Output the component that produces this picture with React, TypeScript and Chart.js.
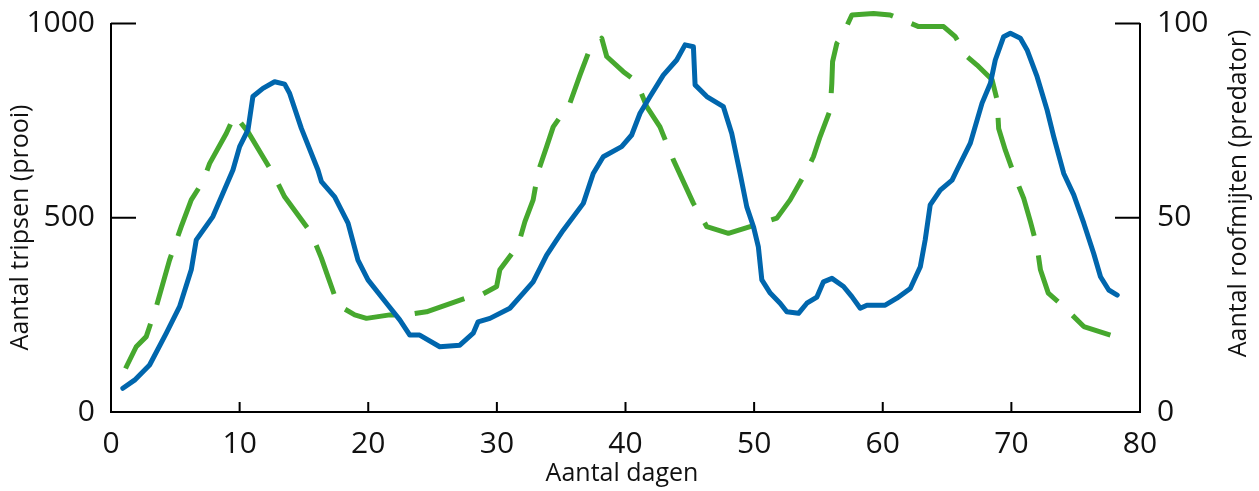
import React, { useEffect, useRef } from "react";
import { Chart, registerables } from "chart.js";

Chart.register(...registerables);

// Prey (tripsen): day, count
const preyDays = [0.92, 1.83, 3.0, 4.3, 5.33, 6.24, 6.63, 7.92, 9.48, 10.0, 10.65, 11.03, 11.81, 12.72, 13.5, 13.89, 14.8, 16.09, 16.36, 17.39, 18.43, 19.2, 19.98, 21.42, 22.45, 23.23, 24.0, 25.56, 27.12, 28.16, 28.54, 29.46, 31.01, 32.05, 32.82, 33.87, 34.65, 35.16, 36.72, 37.49, 38.27, 39.7, 40.48, 41.13, 41.91, 42.94, 43.98, 44.63, 45.28, 45.41, 46.32, 47.61, 48.26, 48.91, 49.43, 49.95, 50.33, 50.6, 51.25, 52.02, 52.54, 53.45, 54.1, 54.88, 55.39, 56.05, 56.95, 57.6, 58.25, 58.77, 60.19, 61.1, 62.14, 62.92, 63.3, 63.69, 64.47, 65.39, 65.77, 66.81, 67.72, 68.37, 68.75, 69.4, 69.92, 70.7, 71.22, 72.0, 72.78, 73.29, 74.07, 74.85, 75.63, 76.4, 76.93, 77.57, 78.23];
const preyCounts = [61, 82, 121, 203, 271, 366, 443, 503, 623, 683, 726, 812, 833, 850, 844, 820, 730, 623, 593, 554, 486, 391, 340, 280, 237, 198, 198, 168, 172, 203, 232, 241, 267, 306, 335, 404, 443, 468, 537, 614, 657, 683, 713, 769, 812, 867, 906, 945, 940, 842, 812, 786, 717, 614, 528, 477, 425, 340, 306, 280, 258, 254, 280, 296, 335, 344, 323, 297, 267, 275, 275, 293, 318, 374, 443, 533, 571, 597, 623, 692, 795, 846, 906, 966, 975, 962, 932, 863, 777, 709, 614, 559, 486, 408, 348, 314, 301];

// Predator (roofmijten): day, count
const predDays = [1.13, 1.96, 2.74, 3.52, 4.55, 5.46, 6.24, 7.14, 7.67, 8.96, 9.61, 10.65, 11.81, 12.59, 13.5, 15.58, 16.36, 16.87, 17.65, 18.95, 19.86, 21.67, 22.97, 24.53, 27.9, 28.54, 29.98, 30.23, 31.66, 32.18, 32.82, 33.21, 33.87, 34.38, 35.68, 36.46, 37.1, 38.15, 38.54, 39.83, 40.87, 41.65, 42.68, 43.72, 44.5, 45.28, 46.32, 48.0, 49.69, 51.77, 52.8, 53.97, 54.61, 55.13, 55.91, 56.04, 56.1, 56.43, 56.95, 57.6, 59.28, 60.58, 62.79, 64.73, 65.64, 66.55, 67.33, 68.5, 68.89, 69.01, 69.53, 70.18, 70.96, 71.48, 72.0, 72.26, 72.87, 74.07, 75.63, 77.7];
const predCounts = [11.2, 16.8, 19.4, 27.1, 39.1, 47.7, 54.6, 59.3, 64.0, 71.7, 76.4, 72.1, 65.7, 61.4, 55.4, 46.0, 39.6, 34.8, 27.5, 25.0, 24.1, 25.0, 25.0, 25.8, 29.7, 29.7, 32.3, 36.6, 43.0, 49.0, 54.6, 61.9, 68.3, 73.4, 79.5, 86.7, 92.3, 96.2, 91.5, 87.6, 85.0, 78.6, 73.4, 64.9, 59.3, 53.7, 47.7, 46.0, 47.7, 49.9, 54.6, 61.4, 65.7, 70.9, 77.7, 84.6, 90.2, 94.9, 97.5, 102.2, 102.6, 102.2, 99.2, 99.2, 96.6, 91.5, 89.3, 85.5, 80.3, 73.0, 67.4, 61.4, 55.0, 49.0, 42.5, 36.6, 30.6, 27.1, 22.0, 19.8];

const xTicks = [0, 10, 20, 30, 40, 50, 60, 70, 80];
const leftTicks = [0, 500, 1000];
const rightTicks = [0, 50, 100];

const xTitle = "Aantal dagen";
const leftTitle = "Aantal tripsen (prooi)";
const rightTitle = "Aantal roofmijten (predator)";

const FONT = "'Open Sans', sans-serif";
const TEXT = "#111";
const BLUE = "#0066AD";
const GREEN = "#46A82E";

const decorPlugin = {
  id: "decor",
  afterDraw(chart: any) {
    const ctx = chart.ctx;
    const x = chart.scales.x;
    const y = chart.scales.y;
    const y2 = chart.scales.y2;
    const area = chart.chartArea;
    ctx.save();
    ctx.strokeStyle = "#000";
    ctx.lineWidth = 2;
    ctx.beginPath();
    leftTicks.forEach((v) => {
      if (v === 0) return;
      const py = y.getPixelForValue(v);
      ctx.moveTo(area.left, py);
      ctx.lineTo(area.left + 25, py);
    });
    rightTicks.forEach((v) => {
      if (v === 0) return;
      const py = y2.getPixelForValue(v);
      ctx.moveTo(area.right, py);
      ctx.lineTo(area.right - 25, py);
    });
    xTicks.forEach((v) => {
      if (v === 0 || v === 80) return;
      const px = x.getPixelForValue(v);
      ctx.moveTo(px, area.bottom);
      ctx.lineTo(px, area.bottom - 10);
    });
    ctx.stroke();

    ctx.fillStyle = TEXT;
    ctx.font = `25px ${FONT}`;
    ctx.textAlign = "center";
    ctx.textBaseline = "alphabetic";
    ctx.fillText(xTitle, 622, 481);

    ctx.save();
    ctx.translate(28, 227.5);
    ctx.rotate(-Math.PI / 2);
    ctx.fillText(leftTitle, 0, 0);
    ctx.restore();

    ctx.save();
    ctx.translate(1246, 193.5);
    ctx.rotate(-Math.PI / 2);
    ctx.fillText(rightTitle, 0, 0);
    ctx.restore();

    ctx.restore();
  },
};

export default function App() {
  const ref = useRef<HTMLCanvasElement | null>(null);
  useEffect(() => {
    document.body.style.margin = "0";
    const canvas = ref.current;
    if (!canvas) return;
    const chart = new Chart(canvas, {
      type: "line",
      data: {
        datasets: [
          {
            label: "prooi",
            data: preyDays.map((d, i) => ({ x: d, y: preyCounts[i] })),
            yAxisID: "y",
            borderColor: BLUE,
            borderWidth: 5,
            pointRadius: 0,
            tension: 0,
            borderCapStyle: "round",
            borderJoinStyle: "round",
            fill: false,
            clip: false,
          },
          {
            label: "predator",
            data: predDays.map((d, i) => ({ x: d, y: predCounts[i] })),
            yAxisID: "y2",
            borderColor: GREEN,
            borderWidth: 5,
            borderDash: [52, 20],
            pointRadius: 0,
            tension: 0,
            borderCapStyle: "butt",
            borderJoinStyle: "round",
            fill: false,
            clip: false,
          },
        ],
      },
      options: {
        animation: false,
        responsive: false,
        devicePixelRatio: 1,
        events: [],
        layout: { padding: { top: 23.5, left: 0, right: 0, bottom: 0 } },
        plugins: {
          legend: { display: false },
          tooltip: { enabled: false },
          title: { display: false },
        },
        scales: {
          x: {
            type: "linear",
            min: 0,
            max: 80,
            afterBuildTicks: (s: any) => {
              s.ticks = xTicks.map((v) => ({ value: v }));
            },
            afterFit: (s: any) => {
              s.height = 79;
              s.paddingLeft = 0;
              s.paddingRight = 0;
            },
            grid: { display: false, drawTicks: false },
            border: { display: true, color: "#000", width: 2 },
            ticks: {
              padding: 14,
              maxRotation: 0,
              autoSkip: false,
              color: TEXT,
              font: { family: FONT, size: 30 },
              callback: (v: any) => String(v),
            },
          },
          y: {
            type: "linear",
            position: "left",
            min: 0,
            max: 1000,
            afterBuildTicks: (s: any) => {
              s.ticks = leftTicks.map((v) => ({ value: v }));
            },
            afterFit: (s: any) => {
              s.width = 111;
              s.paddingTop = 0;
              s.paddingBottom = 0;
            },
            grid: { display: false, drawTicks: false },
            border: { display: true, color: "#000", width: 2 },
            ticks: {
              padding: 16,
              color: TEXT,
              font: { family: FONT, size: 30 },
              callback: (v: any) => String(v),
            },
          },
          y2: {
            type: "linear",
            position: "right",
            min: 0,
            max: 100,
            afterBuildTicks: (s: any) => {
              s.ticks = rightTicks.map((v) => ({ value: v }));
            },
            afterFit: (s: any) => {
              s.width = 119;
              s.paddingTop = 0;
              s.paddingBottom = 0;
            },
            grid: { display: false, drawTicks: false },
            border: { display: true, color: "#000", width: 2 },
            ticks: {
              padding: 17,
              color: TEXT,
              font: { family: FONT, size: 30 },
              callback: (v: any) => String(v),
            },
          },
        },
      },
      plugins: [decorPlugin],
    } as any);
    return () => chart.destroy();
  }, []);
  return <canvas ref={ref} width={1259} height={491} style={{ display: "block" }} />;
}
